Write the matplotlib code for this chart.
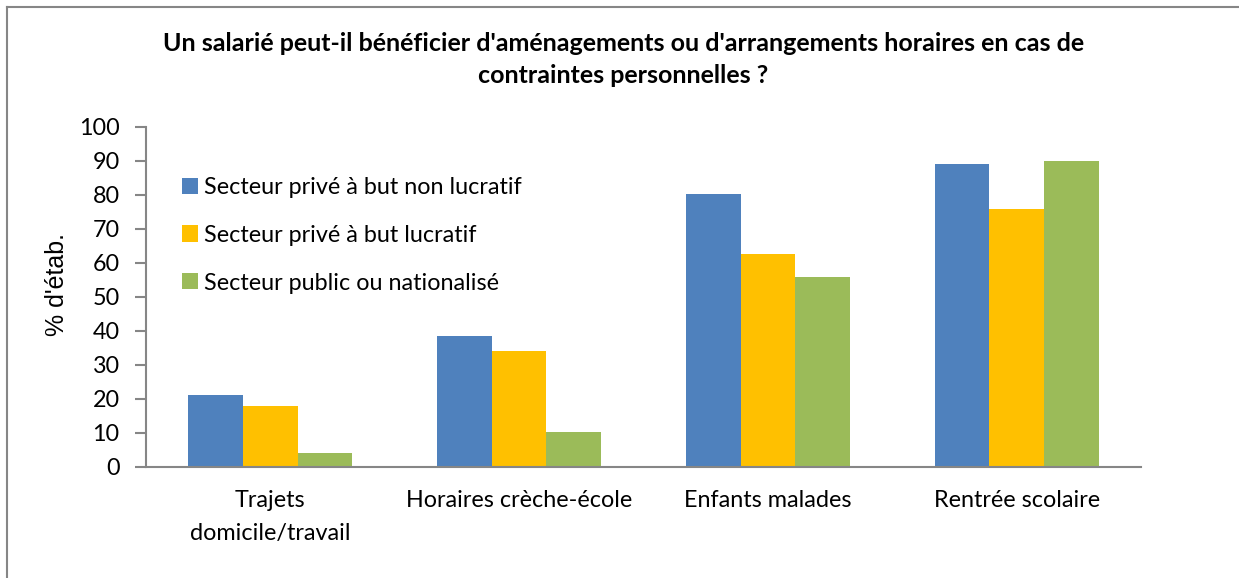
import matplotlib.pyplot as plt
from matplotlib.lines import Line2D
import numpy as np

plt.rcParams['font.family'] = ['Lato', 'DejaVu Sans']

# ---------------- DATA ----------------
categories = ['Trajets\ndomicile/travail', 'Horaires crèche-école',
              'Enfants malades', 'Rentrée scolaire']
series_names = ['Secteur privé à but non lucratif',
                'Secteur privé à but lucratif',
                'Secteur public ou nationalisé']
non_lucratif = [21.0, 38.4, 80.1, 88.9]
lucratif = [17.9, 34.0, 62.7, 75.7]
public = [4.1, 10.3, 55.9, 89.8]

colors = ['#4F81BD', '#FFC000', '#9BBB59']
axis_grey = '#868686'

fig = plt.figure(figsize=(12.39, 5.78), dpi=100)
ax = fig.add_axes([146 / 1239, 1 - 466.7 / 578, (1141 - 146) / 1239, (466.7 - 126.7) / 578])

x = np.arange(len(categories))
width = 0.22
for i, (vals, name) in enumerate(zip([non_lucratif, lucratif, public], series_names)):
    ax.bar(x + (i - 1) * width, vals, width, color=colors[i], label=name)

ax.set_xlim(-0.5, len(categories) - 0.5)
ax.set_ylim(0, 100)
ax.set_yticks(range(0, 101, 10))
ax.set_xticks(x)
ax.set_xticklabels(categories, fontsize=16.8, linespacing=1.7)
ax.tick_params(axis='x', length=0, pad=17)
ax.tick_params(axis='y', length=8, width=1.5, color=axis_grey, labelsize=16.8, pad=11)

for side in ['top', 'right']:
    ax.spines[side].set_visible(False)
for side in ['left', 'bottom']:
    ax.spines[side].set_color(axis_grey)
    ax.spines[side].set_linewidth(1.5)

# y label in an Arial-like face as in the original
fig.text(57 / 1239, 1 - 285 / 578, "% d'étab.", rotation=90, ha='center', va='center',
         fontsize=18, family=['Liberation Sans', 'DejaVu Sans'])

ax.legend(loc='upper left', bbox_to_anchor=(0.027, 0.88), frameon=False, fontsize=16.8,
          handlelength=0.68, handleheight=0.68, handletextpad=0.25, labelspacing=1.15,
          borderaxespad=0)

fig.text(0.503, 0.897, "Un salarié peut-il bénéficier d'aménagements ou d'arrangements horaires en cas de\ncontraintes personnelles ?",
         ha='center', va='center', fontsize=18, fontweight='bold', linespacing=1.45)

# outer chart border (left and top visible)
fig.add_artist(Line2D([7 / 1239, 7 / 1239], [0, 1 - 7 / 578], transform=fig.transFigure,
                      color=axis_grey, lw=1.5))
fig.add_artist(Line2D([7 / 1239, 1], [1 - 7 / 578, 1 - 7 / 578], transform=fig.transFigure,
                      color=axis_grey, lw=1.5))

fig.savefig('out.png', dpi=100)
